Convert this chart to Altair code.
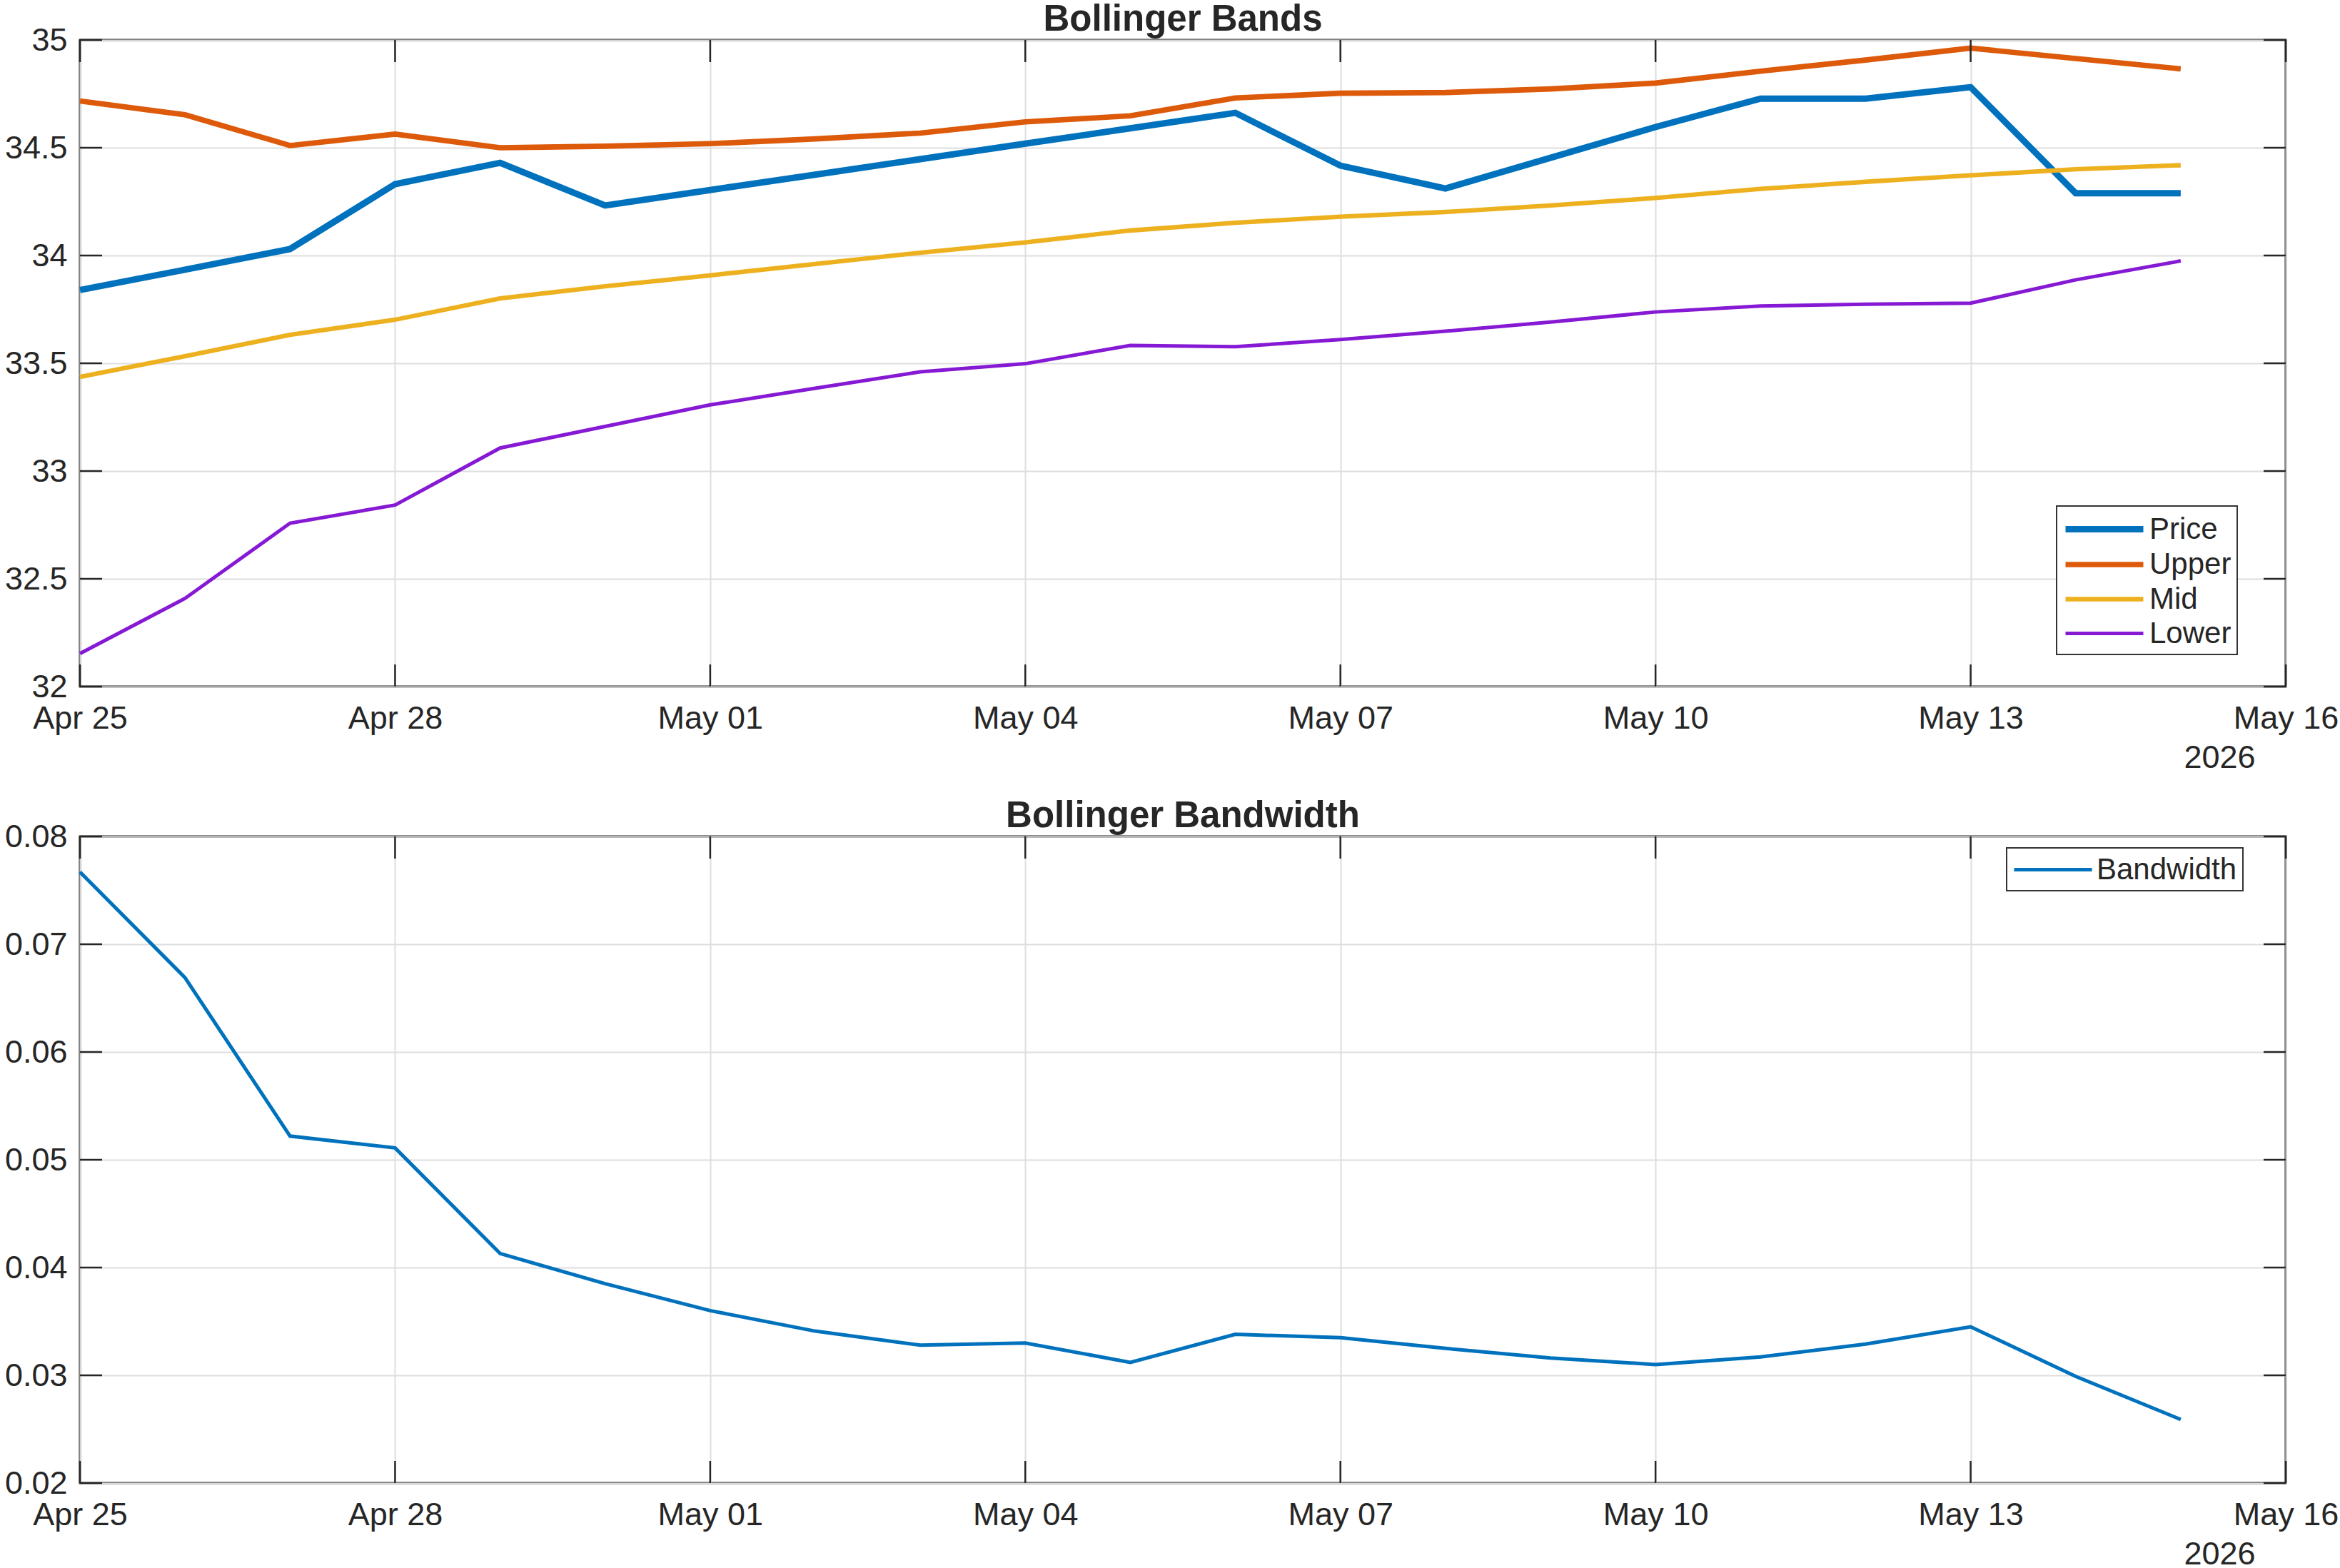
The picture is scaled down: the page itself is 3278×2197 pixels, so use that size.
import altair as alt
import pandas as pd

# Trading days shown in both panels
dates = [
    "2026-04-25", "2026-04-26", "2026-04-27", "2026-04-28", "2026-04-29",
    "2026-04-30", "2026-05-01", "2026-05-02", "2026-05-03", "2026-05-04",
    "2026-05-05", "2026-05-06", "2026-05-07", "2026-05-08", "2026-05-09",
    "2026-05-10", "2026-05-11", "2026-05-12", "2026-05-13", "2026-05-14",
    "2026-05-15",
]

price = [33.840, 33.934, 34.030, 34.331, 34.430, 34.232, 34.304, 34.375, 34.447,
         34.519, 34.590, 34.662, 34.417, 34.311, 34.453, 34.596, 34.728, 34.728,
         34.781, 34.289, 34.289]
upper = [34.717, 34.653, 34.510, 34.563, 34.500, 34.507, 34.519, 34.541, 34.568,
         34.620, 34.648, 34.731, 34.753, 34.756, 34.773, 34.800, 34.855, 34.907,
         34.962, 34.914, 34.866]
mid = [33.437, 33.533, 33.632, 33.702, 33.801, 33.857, 33.908, 33.961, 34.013,
       34.061, 34.116, 34.152, 34.180, 34.202, 34.232, 34.267, 34.309, 34.342,
       34.372, 34.400, 34.419]
lower = [32.153, 32.409, 32.758, 32.842, 33.107, 33.207, 33.307, 33.384, 33.460,
         33.498, 33.583, 33.577, 33.610, 33.649, 33.691, 33.738, 33.766, 33.774,
         33.779, 33.887, 33.975]
bandwidth = [0.0767, 0.0669, 0.0522, 0.0511, 0.0413, 0.0385, 0.0360, 0.0341, 0.0328,
             0.0330, 0.0312, 0.0338, 0.0335, 0.0325, 0.0316, 0.0310, 0.0317, 0.0329,
             0.0345, 0.0299, 0.0259]

series_names = ["Price", "Upper", "Mid", "Lower"]
series_colors = ["#0072BD", "#DD5A0A", "#EDB120", "#8619D4"]
series_widths = [9, 5, 5, 5]

x_ticks = ["2026-04-25", "2026-04-28", "2026-05-01", "2026-05-04",
           "2026-05-07", "2026-05-10", "2026-05-13", "2026-05-16"]
band_ticks = [32, 32.5, 33, 33.5, 34, 34.5, 35]
width_ticks = [0.02, 0.03, 0.04, 0.05, 0.06, 0.07, 0.08]

FONT = "Liberation Sans"
TEXT = "#262626"
GRID = "#dedede"
W, H = 3090, 906
TICK_LEN = 31

# legend key: a 109px horizontal stroke inside a 40px layout slot
KEY_SLOT = 40
KEY_HALF = 109 / 2 / (KEY_SLOT / 2)
KEY_PATH = f"M-{KEY_HALF:.3f},0H{KEY_HALF:.3f}"
KEY_SHIFT = (109 - KEY_SLOT) / 2


def ms(day):
    return int(pd.Timestamp(day, tz="UTC").timestamp() * 1000)


band_df = pd.DataFrame({
    "date": dates * 4,
    "series": sum([[n] * len(dates) for n in series_names], []),
    "value": price + upper + mid + lower,
})
bw_df = pd.DataFrame({"date": dates, "series": ["Bandwidth"] * len(dates), "value": bandwidth})
xt_df = pd.DataFrame({"date": x_ticks})

x_scale = alt.Scale(type="utc", domain=[ms(x_ticks[0]), ms(x_ticks[-1])])


def x_axis():
    return alt.Axis(
        values=[ms(t) for t in x_ticks], format="%b %d",
        labelFont=FONT, labelFontSize=45, labelColor=TEXT, labelPadding=22,
        labelFlush=False, labelOverlap=False,
        ticks=False, tickSize=0, domain=False,
        grid=True, gridColor=GRID, gridWidth=2,
        title="2026", titleFont=FONT, titleFontSize=45, titleFontWeight="normal",
        titleColor=TEXT, titleX=2997, titleY=113, titleAlign="center",
        titleBaseline="alphabetic",
    )


def y_axis(vals, fmt):
    return alt.Axis(
        values=vals, format=fmt,
        labelFont=FONT, labelFontSize=45, labelColor=TEXT, labelPadding=18,
        labelFlush=False, labelOverlap=False,
        ticks=False, tickSize=0, domain=False,
        grid=True, gridColor=GRID, gridWidth=2, title=None,
    )


def legend(x, y, sym_width=None):
    kw = dict(
        orient="none", legendX=x, legendY=y, title=None,
        strokeColor="#333333", fillColor="white", padding=8,
        symbolType=KEY_PATH, symbolSize=KEY_SLOT * KEY_SLOT, symbolOffset=KEY_SHIFT,
        labelFont=FONT, labelFontSize=42, labelColor=TEXT,
        labelOffset=KEY_SHIFT + 4, labelLimit=600,
        rowPadding=4,
    )
    if sym_width is not None:
        kw["symbolStrokeWidth"] = sym_width
    return alt.Legend(**kw)


def inward_ticks(y_vals, y_scale, y_fmt):
    """Tick marks drawn inside the box on all four sides."""
    yt_df = pd.DataFrame({"value": y_vals})
    tick = dict(color=TEXT, strokeWidth=2.5)
    xb = alt.Chart(xt_df).mark_rule(**tick).encode(
        x=alt.X("date:T", scale=x_scale, axis=x_axis()), y=alt.value(H), y2=alt.value(H - TICK_LEN))
    xt = alt.Chart(xt_df).mark_rule(**tick).encode(
        x=alt.X("date:T", scale=x_scale, axis=x_axis()), y=alt.value(0), y2=alt.value(TICK_LEN))
    yl = alt.Chart(yt_df).mark_rule(**tick).encode(
        y=alt.Y("value:Q", scale=y_scale, axis=y_axis(y_vals, y_fmt)), x=alt.value(0), x2=alt.value(TICK_LEN))
    yr = alt.Chart(yt_df).mark_rule(**tick).encode(
        y=alt.Y("value:Q", scale=y_scale, axis=y_axis(y_vals, y_fmt)), x=alt.value(W - TICK_LEN), x2=alt.value(W))
    return [xb, xt, yl, yr]


def panel_title(text):
    return alt.TitleParams(text, font=FONT, fontSize=51, fontWeight="bold",
                           color=TEXT, anchor="middle", offset=-20)


# Upper panel: price with the three bands
band_y = alt.Scale(domain=[32, 35], nice=False, zero=False)
band_lines = alt.Chart(band_df).mark_line(strokeCap="butt", strokeJoin="miter").encode(
    x=alt.X("date:T", scale=x_scale, axis=x_axis()),
    y=alt.Y("value:Q", scale=band_y, axis=y_axis(band_ticks, "~g")),
    color=alt.Color("series:N", scale=alt.Scale(domain=series_names, range=series_colors),
                    legend=legend(2769, 653)),
    strokeWidth=alt.StrokeWidth("series:N", scale=alt.Scale(domain=series_names, range=series_widths),
                                legend=legend(2769, 653)),
    detail="series:N",
)
top = alt.layer(band_lines, *inward_ticks(band_ticks, band_y, "~g")).properties(
    width=W, height=H, title=panel_title("Bollinger Bands"),
)

# Lower panel: bandwidth
bw_y = alt.Scale(domain=[0.02, 0.08], nice=False, zero=False)
bw_line = alt.Chart(bw_df).mark_line(strokeWidth=5, strokeCap="butt", strokeJoin="miter").encode(
    x=alt.X("date:T", scale=x_scale, axis=x_axis()),
    y=alt.Y("value:Q", scale=bw_y, axis=y_axis(width_ticks, ".2f")),
    color=alt.Color("series:N", scale=alt.Scale(domain=["Bandwidth"], range=["#0072BD"]),
                    legend=legend(2699, 16, sym_width=5)),
)
bottom = alt.layer(bw_line, *inward_ticks(width_ticks, bw_y, ".2f")).properties(
    width=W, height=H, title=panel_title("Bollinger Bandwidth"),
)

chart = alt.vconcat(top, bottom, spacing=30).resolve_scale(
    color="independent", strokeWidth="independent", y="independent"
).properties(
    background="white",
    padding={"left": 4, "top": 0, "right": 0, "bottom": 0},
).configure_view(
    stroke="#262626", strokeWidth=3,
).configure_legend(
    strokeWidth=2,
)

chart.save("out.html", embed_options={"renderer": "svg", "actions": False})
